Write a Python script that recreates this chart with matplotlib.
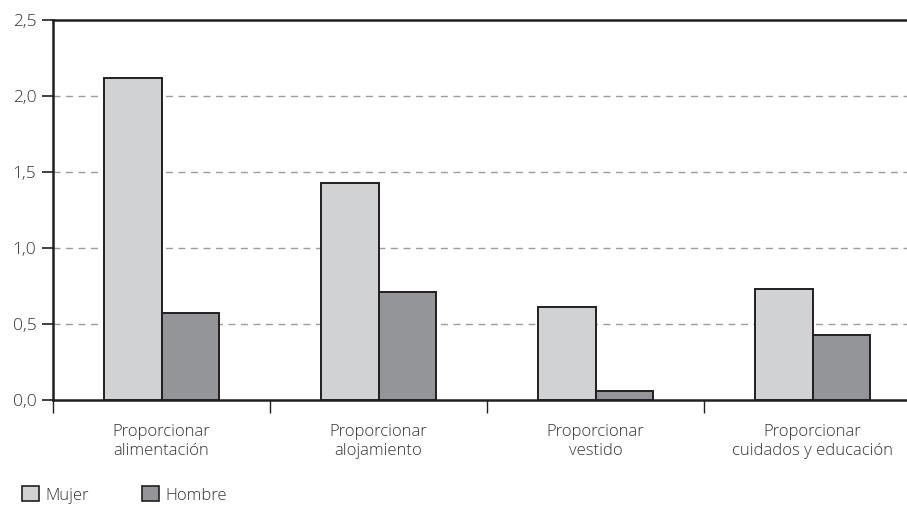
import numpy as np
import matplotlib.pyplot as plt
from matplotlib.patches import Patch

categorias = ['Proporcionar\nalimentación', 'Proporcionar\nalojamiento',
              'Proporcionar\nvestido', 'Proporcionar\ncuidados y educación']
mujer = [2.12, 1.43, 0.61, 0.73]
hombre = [0.57, 0.71, 0.06, 0.43]
yticks = [0.0, 0.5, 1.0, 1.5, 2.0, 2.5]

plt.rcParams['font.family'] = ['Open Sans', 'DejaVu Sans']
plt.rcParams['font.weight'] = 'light'
txt = '#333333'
borde = '#231f20'

fig = plt.figure(figsize=(9.07, 5.07), dpi=100)
ax = fig.add_axes([53/907, 107/507, 854/907, 380/507])

x = np.arange(len(categorias)) + 0.5
w = 0.263
ax.bar(x - w/2, mujer, w, color='#d1d2d4', edgecolor=borde, linewidth=1.4, zorder=3, label='Mujer')
ax.bar(x + w/2, hombre, w, color='#939598', edgecolor=borde, linewidth=1.4, zorder=3, label='Hombre')

ax.set_xlim(0, 854/217)
ax.set_ylim(0, 2.5)
ax.set_yticks(yticks)
ax.set_yticklabels([f'{v:.1f}'.replace('.', ',') for v in yticks], fontsize=12.5, color=txt)
ax.set_xticks(np.arange(len(categorias)))
ax.set_xticklabels([])
ax.set_xticks(x, minor=True)
ax.set_xticklabels(categorias, minor=True, fontsize=12, color=txt, linespacing=1.25)
ax.tick_params(axis='x', which='minor', length=0, pad=17)
ax.tick_params(axis='x', which='major', length=9, width=1, color=borde)
ax.tick_params(axis='y', length=8, width=1.2, color=borde, pad=4)

for v in yticks[1:-1]:
    ax.axhline(v, color='#9d9d9d', linestyle=(0, (5, 4)), linewidth=1, zorder=1)

for s in ['left', 'top', 'bottom']:
    ax.spines[s].set_linewidth(1.8)
    ax.spines[s].set_color(borde)
ax.spines['right'].set_visible(False)

handles = [Patch(facecolor='#d1d2d4', edgecolor=borde, linewidth=1.2),
           Patch(facecolor='#939598', edgecolor=borde, linewidth=1.2)]
fig.legend(handles, ['Mujer', 'Hombre'], loc='center left', bbox_to_anchor=(0.008, 12/507),
           ncol=2, frameon=False, fontsize=12, handlelength=1.0, handleheight=1.0,
           handletextpad=0.4, columnspacing=3.2, labelcolor=txt)

fig.savefig('out.png', dpi=100)
